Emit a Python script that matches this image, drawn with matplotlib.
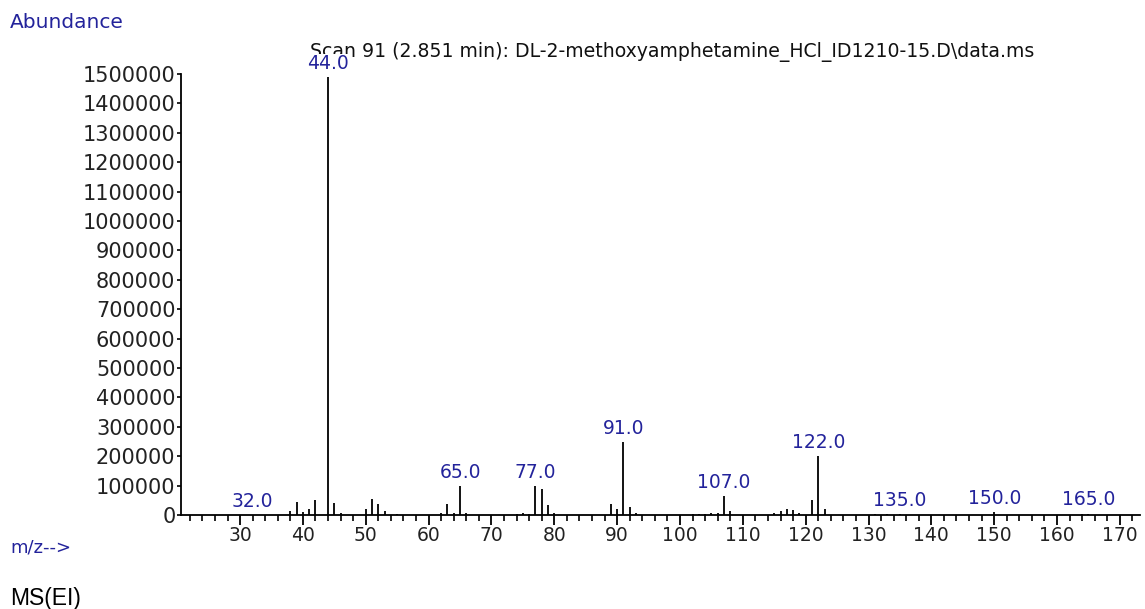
import numpy as np
import matplotlib.pyplot as plt
from matplotlib.ticker import MultipleLocator

# widmo MS(EI)
mz = [38, 39, 40, 41, 42, 44, 45, 46, 50, 51, 52, 53, 55, 62, 63, 64, 65, 66,
      74, 75, 76, 77, 78, 79, 80, 89, 90, 91, 92, 93, 102, 103, 104, 105, 106,
      107, 108, 115, 116, 117, 118, 119, 121, 122, 123, 131, 133, 135, 150,
      164, 165]
abundance = [12000, 43000, 9000, 20000, 52000, 1490000, 40000, 8000, 20000,
             55000, 37000, 15000, 5000, 8000, 36000, 8000, 98000, 8000,
             5000, 6000, 5000, 97000, 90000, 35000, 6000, 38000, 20000,
             248000, 28000, 6000, 4000, 5000, 5000, 6000, 6000,
             65000, 15000, 8000, 12000, 20000, 18000, 8000, 52000, 200000,
             22000, 5000, 5000, 4000, 10000, 4000, 5000]

label_mz = [32, 44, 65, 77, 91, 107, 122, 135, 150, 165]
label_y = [0, 1490000, 98000, 97000, 248000, 65000, 200000, 4000, 10000, 5000]

title = r"Scan 91 (2.851 min): DL-2-methoxyamphetamine_HCl_ID1210-15.D\data.ms"

blue = '#23239b'
plt.rcParams['font.family'] = ['DejaVu Sans']

fig = plt.figure(figsize=(11.45, 6.09), dpi=100)
ax = fig.add_axes([181 / 1145, 1 - 515 / 609, (1140 - 181) / 1145, (515 - 74) / 609])

ax.vlines(mz, 0, abundance, color='black', lw=1.3, zorder=3)

# tytul pod etykieta 44.0 (jak w oryginale)
ax.text(310 / 1145, 1 - 52 / 609, title, fontsize=13.6, va='center', ha='left',
        color='#111111', zorder=1, transform=fig.transFigure, clip_on=False)

for m, y in zip(label_mz, label_y):
    bb = dict(facecolor='white', edgecolor='none', pad=0) if m == 44 else None
    ax.annotate(f"{m:.1f}", (m, y), xytext=(0, 3), textcoords='offset points',
                ha='center', va='bottom', color=blue, fontsize=13.5, bbox=bb,
                zorder=5, annotation_clip=False)

ax.set_xlim(20.6, 173.2)
ax.set_ylim(0, 1500000)
ax.xaxis.set_major_locator(MultipleLocator(10))
ax.xaxis.set_minor_locator(MultipleLocator(2))
ax.set_xticks(np.arange(30, 171, 10))
ax.set_yticks(np.arange(0, 1500001, 100000))
ax.set_yticklabels([str(v) for v in range(0, 1500001, 100000)])

for s in ['top', 'right']:
    ax.spines[s].set_visible(False)
ax.spines['left'].set_linewidth(1.3)
ax.spines['bottom'].set_linewidth(1.3)

ax.tick_params(axis='x', which='major', length=7, width=1.3, direction='out',
               labelsize=13.5, pad=1, colors='black', labelcolor='#222222')
ax.tick_params(axis='x', which='minor', length=4, width=1.2, direction='out')
ax.tick_params(axis='y', which='major', length=3, width=1.2, direction='out',
               labelsize=15, pad=1, labelcolor='#222222')

fig.text(10 / 1145, 1 - 22 / 609, "Abundance", fontsize=14.5, va='center',
         ha='left', color=blue)
fig.text(10 / 1145, 1 - 547 / 609, "m/z-->", fontsize=13, va='center',
         ha='left', color=blue)
fig.text(10 / 1145, 1 - 598 / 609, "MS(EI)", fontsize=16.5, va='center',
         ha='left', color='black', family=['Liberation Sans'])

fig.savefig('out.png', dpi=100)
